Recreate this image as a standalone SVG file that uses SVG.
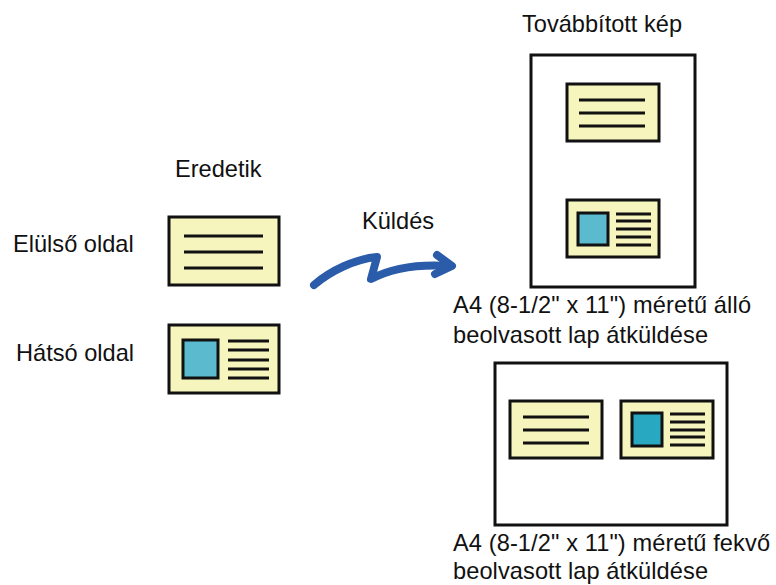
<svg xmlns="http://www.w3.org/2000/svg" width="776" height="585" viewBox="0 0 776 585">
<style>
text{font-family:"Liberation Sans",Arial,sans-serif;font-size:23.6px;fill:#111}
.card{fill:#f5f5bd;stroke:#111;stroke-width:3}
.page{fill:#fff;stroke:#111;stroke-width:3}
.ln{stroke:#111;stroke-width:2.8;fill:none}
.ph{fill:#5bbacd;stroke:#111;stroke-width:3}
.ph2{fill:#29a8c2;stroke:#111;stroke-width:3}
.arrow{fill:none;stroke:#2a5caa;stroke-width:8;stroke-linecap:round;stroke-linejoin:round}
</style>
<rect width="776" height="585" fill="#fff"/>
<g id="labels">
<text x="175" y="177">Eredetik</text>
<text x="13" y="252">Elülső oldal</text>
<text x="16" y="361">Hátsó oldal</text>
<text x="362" y="229">Küldés</text>
<text x="522" y="32">Továbbított kép</text>
<text x="453" y="313" textLength="298" lengthAdjust="spacing">A4 (8-1/2" x 11") méretű álló</text>
<text x="453" y="343" textLength="255" lengthAdjust="spacing">beolvasott lap átküldése</text>
<text x="453" y="551" textLength="317" lengthAdjust="spacing">A4 (8-1/2" x 11") méretű fekvő</text>
<text x="453" y="579" textLength="255" lengthAdjust="spacing">beolvasott lap átküldése</text>
</g>
<g id="orig-front">
<rect class="card" x="169" y="217" width="110" height="68"/>
<path class="ln" d="M184,236H263M184,252H263M184,268H263"/>
</g>
<g id="orig-back">
<rect class="card" x="169" y="325" width="110" height="68"/>
<rect class="ph" x="183" y="340" width="35" height="38"/>
<path class="ln" d="M228,341H269M228,350H269M228,360H269M228,369H269M228,378H269"/>
</g>
<g id="portrait-page">
<rect class="page" x="531" y="55" width="164" height="232"/>
<rect class="card" x="567" y="84" width="92" height="57"/>
<path class="ln" d="M579,100H645M579,113H645M579,126H645"/>
<rect class="card" x="567" y="200" width="92" height="57"/>
<rect class="ph" x="578" y="213" width="30" height="32"/>
<path class="ln" d="M616,214H651M616,221H651M616,229H651M616,237H651M616,245H651"/>
</g>
<g id="landscape-page">
<rect class="page" x="495" y="363" width="232" height="162"/>
<rect class="card" x="510" y="401" width="92" height="57"/>
<path class="ln" d="M523,417H589M523,430H589M523,443H589"/>
<rect class="card" x="621" y="401" width="92" height="57"/>
<rect class="ph2" x="632" y="413" width="30" height="33"/>
<path class="ln" d="M670,414H705M670,422H705M670,430H705M670,437H705M670,445H705"/>
</g>
<g id="connectors">
<path class="arrow" d="M314,285C330,271 355,259 377,257L371,279C392,268 418,264 449,266"/>
<path class="arrow" d="M437,255L452,266L435,274"/>
</g>
</svg>
